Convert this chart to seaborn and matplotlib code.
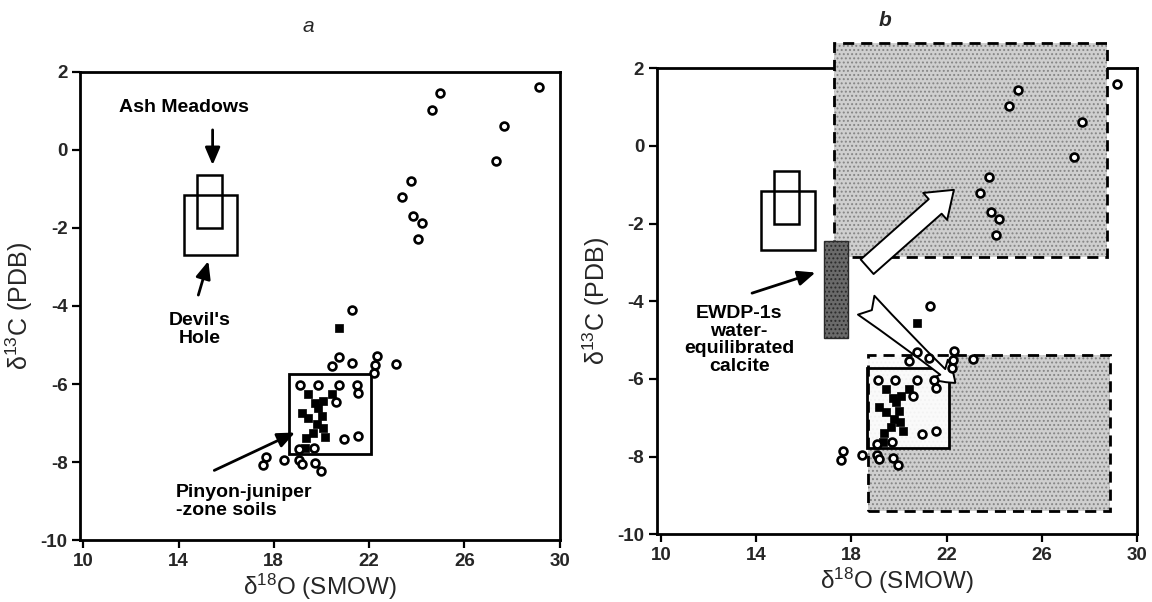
import matplotlib
matplotlib.use("Agg")
import matplotlib.pyplot as plt
from matplotlib.patches import Rectangle, FancyArrowPatch
import seaborn as sns

# ---- data -------------------------------------------------------------
# soil carbonate samples (open circles)
circle_d18o = [29.14, 24.98, 24.63, 27.67, 27.32, 23.76, 23.40, 23.86, 24.21, 24.07,
               21.30, 20.75, 20.43, 21.27, 22.32, 22.25, 22.21, 23.12,
               19.10, 19.84, 20.75, 21.48, 21.55, 20.60, 20.96, 21.55, 19.07, 19.70,
               17.66, 17.56, 18.43, 19.06, 19.17, 19.73, 19.97]
circle_d13c = [1.60, 1.45, 1.02, 0.62, -0.29, -0.80, -1.20, -1.70, -1.87, -2.29,
               -4.11, -5.30, -5.54, -5.45, -5.28, -5.51, -5.71, -5.49,
               -6.03, -6.03, -6.03, -6.03, -6.22, -6.45, -7.41, -7.33, -7.67, -7.63,
               -7.86, -8.08, -7.95, -7.95, -8.05, -8.03, -8.22]
# filled squares
square_d18o = [20.74, 19.45, 20.43, 19.73, 20.08, 19.87, 19.17, 19.45, 20.01,
               19.80, 20.05, 19.66, 20.15, 19.35, 19.31]
square_d13c = [-4.56, -6.26, -6.25, -6.48, -6.43, -6.60, -6.73, -6.86, -6.82,
               -7.03, -7.12, -7.24, -7.35, -7.39, -7.63]

# reference fields: (d18O min, d18O max, d13C min, d13C max)
ash_meadows = (14.76, 15.81, -2.01, -0.65)
devils_hole = (14.21, 16.47, -2.69, -1.16)
pinyon_juniper = (18.64, 22.08, -7.78, -5.73)
ewdp_calcite = (16.84, 17.86, -4.94, -2.44)
upper_field = (17.26, 28.74, -2.85, 2.64)
lower_field = (18.69, 28.87, -9.40, -5.37)

x_ticks = [10, 14, 18, 22, 26, 30]
y_ticks = [-10, -8, -6, -4, -2, 0, 2]
x_tick_labels = ["10", "14", "18", "22", "26", "30"]
y_tick_labels = ["-10", "-8", "-6", "-4", "-2", "0", "2"]

# ---- style ------------------------------------------------------------
sns.set_style("ticks")
plt.rcParams["font.family"] = ["Liberation Sans", "DejaVu Sans"]
plt.rcParams["mathtext.fontset"] = "custom"
plt.rcParams["mathtext.rm"] = "Liberation Sans"
plt.rcParams["mathtext.it"] = "Liberation Sans:italic"
plt.rcParams["mathtext.bf"] = "Liberation Sans:bold"
plt.rcParams["hatch.linewidth"] = 0.9

W, H = 1152, 602
fig = plt.figure(figsize=(W / 100, H / 100), dpi=100)
fig.patch.set_facecolor("white")


def box(ax, b, **kw):
    x0, x1, y0, y1 = b
    r = Rectangle((x0, y0), x1 - x0, y1 - y0, **kw)
    ax.add_patch(r)
    return r


def arrow(ax, tip, tail):
    ax.annotate("", xy=tip, xytext=tail,
                arrowprops=dict(arrowstyle="-|>,head_length=0.7,head_width=0.3",
                                lw=2.0, color="black", mutation_scale=15,
                                shrinkA=0, shrinkB=0), zorder=4)


def panel(ax, xlim):
    ax.set_xlim(*xlim)
    ax.set_ylim(-10, 2)
    ax.set_xticks(x_ticks, labels=x_tick_labels, fontweight="bold", fontsize=13.5)
    ax.set_yticks(y_ticks, labels=y_tick_labels, fontweight="bold", fontsize=13.5)
    ax.tick_params(direction="out", length=6, width=1.6, pad=3, color="black")
    for s in ax.spines.values():
        s.set_linewidth(2.0)
        s.set_color("black")
    ax.set_xlabel(r"δ$^{\mathregular{18}}$O (SMOW)", fontsize=17.5)
    ax.set_ylabel(r"δ$^{\mathregular{13}}$C (PDB)", fontsize=18)
    ax.xaxis.set_label_coords(0.5, -0.068)
    ax.yaxis.set_label_coords(-0.094, 0.5)

    box(ax, ash_meadows, fill=False, lw=1.8, ec="black", zorder=2.8)
    box(ax, devils_hole, fill=False, lw=1.8, ec="black", zorder=2.8)
    box(ax, pinyon_juniper, fill=False, lw=2.0, ec="black", zorder=2.8)

    sns.scatterplot(x=square_d18o, y=square_d13c, marker="s", s=34, color="black",
                    edgecolor="black", linewidth=0.5, ax=ax, zorder=5, legend=False)
    sns.scatterplot(x=circle_d18o, y=circle_d13c, marker="o", s=32, color="white",
                    edgecolor="black", linewidth=1.9, ax=ax, zorder=6, legend=False)


# ---- panel a ----------------------------------------------------------
ax_a = fig.add_axes([80 / W, 1 - 540.3 / H, 479.5 / W, 468.6 / H])
panel(ax_a, (9.86, 30))
txt = dict(fontsize=14, fontweight="bold", color="black", zorder=7)
ax_a.text(14.22, 1.09, "Ash Meadows", ha="center", va="center", **txt)
ax_a.text(14.90, -4.61, "Devil's\nHole", ha="center", va="center",
          multialignment="center", linespacing=1.08, **txt)
ax_a.text(13.89, -9.0, "Pinyon-juniper\n-zone soils", ha="left", va="center",
          multialignment="left", linespacing=1.08, **txt)
arrow(ax_a, (15.43, -0.39), (15.43, 0.51))
arrow(ax_a, (15.25, -2.85), (14.83, -3.72))
arrow(ax_a, (18.89, -7.24), (15.50, -8.21))

# ---- panel b ----------------------------------------------------------
ax_b = fig.add_axes([656.7 / W, 1 - 534.3 / H, 480.7 / W, 466 / H])
panel(ax_b, (9.83, 30))

stipple = dict(facecolor="#cfcfcf", edgecolor="#858585", hatch="....", lw=0,
               clip_on=False, zorder=2.6)
box(ax_b, upper_field, **stipple)
box(ax_b, lower_field, **stipple)
box(ax_b, (18.69, 22.15, -7.78, -5.37), facecolor="white", lw=0, alpha=0.9,
    zorder=2.65)
dashed = dict(fill=False, ec="black", lw=2.0, ls=(0, (4, 2.5)), clip_on=False,
              zorder=2.7)
box(ax_b, upper_field, **dashed)
box(ax_b, lower_field, **dashed)
box(ax_b, ewdp_calcite, facecolor="#6a6a6a", edgecolor="#2a2a2a", hatch="....",
    lw=1.0, zorder=2.8)

ax_b.text(13.29, -5.0, "EWDP-1s\nwater-\nequilibrated\ncalcite", ha="center",
          va="center", multialignment="center", linespacing=1.05, **txt)
arrow(ax_b, (16.49, -3.26), (13.83, -3.79))

up = FancyArrowPatch((18.66, -3.11), (22.30, -1.13),
                     arrowstyle="simple,head_length=1.8,head_width=2.6,tail_width=1.4",
                     mutation_scale=10, fc="white", ec="black", lw=1.4,
                     shrinkA=0, shrinkB=0, zorder=4)
ax_b.add_patch(up)
down = FancyArrowPatch((18.62, -4.10), (22.36, -6.10),
                       arrowstyle="fancy,head_length=1.5,head_width=1.8,tail_width=1.8",
                       mutation_scale=10, fc="white", ec="black", lw=1.4,
                       shrinkA=0, shrinkB=0, zorder=4)
ax_b.add_patch(down)

# ---- panel letters ----------------------------------------------------
fig.text(308 / W, 1 - 27 / H, "a", ha="center", va="center", style="italic",
         fontsize=15)
fig.text(885 / W, 1 - 20 / H, "b", ha="center", va="center", style="italic",
         fontweight="bold", fontsize=15)

fig.savefig("out.png", dpi=100, facecolor="white")
